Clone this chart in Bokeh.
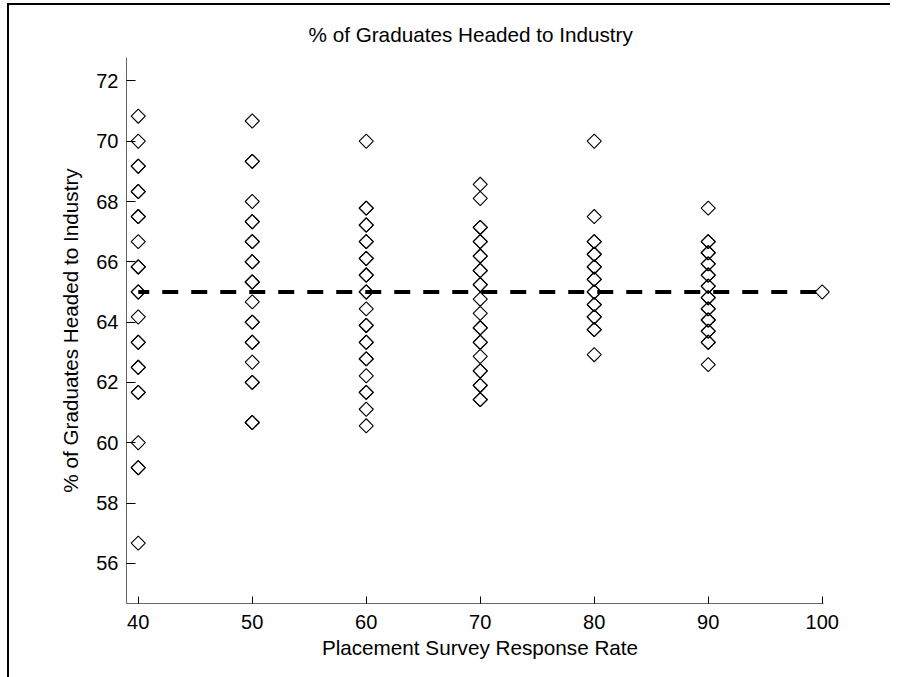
import math
from bokeh.plotting import figure
from bokeh.models import FixedTicker, Range1d, Spacer
from bokeh.layouts import column, row
from bokeh.embed import file_html
from bokeh.resources import INLINE

# ---- data ----
response_levels = [40, 50, 60, 70, 80, 90, 100]
pct_40 = [70.83, 70.00, 69.17, 69.17, 68.33, 68.33, 67.50, 67.50, 66.67, 65.83, 65.83,
          65.00, 65.00, 64.17, 63.33, 63.33, 62.50, 62.50, 61.67, 61.67, 60.00, 59.17,
          59.17, 56.67]
pct_50 = [70.67, 69.33, 69.33, 68.00, 67.33, 67.33, 66.67, 66.67, 66.00, 66.00, 65.33,
          65.33, 64.67, 64.00, 64.00, 63.33, 63.33, 62.67, 62.00, 62.00, 60.67, 60.67]
pct_60 = [70.00, 67.78, 67.78, 67.22, 67.22, 66.67, 66.67, 66.11, 66.11, 65.56, 65.56,
          65.00, 65.00, 64.44, 63.89, 63.89, 63.33, 63.33, 62.78, 62.78, 62.22, 61.67,
          61.67, 61.11, 60.56]
pct_70 = [68.57, 68.10, 67.14, 67.14, 66.67, 66.67, 66.19, 66.19, 65.71, 65.71, 65.24,
          65.24, 64.76, 64.29, 63.81, 63.81, 63.33, 63.33, 62.86, 62.38, 62.38, 61.90,
          61.90, 61.43, 61.43]
pct_80 = [70.00, 67.50, 66.67, 66.67, 66.25, 66.25, 65.83, 65.83, 65.42, 65.42, 65.00,
          65.00, 64.58, 64.58, 64.17, 64.17, 63.75, 63.75, 62.92]
pct_90 = [67.78, 66.67, 66.67, 66.30, 66.30, 65.93, 65.93, 65.56, 65.56, 65.19, 65.19,
          64.81, 64.81, 64.44, 64.44, 64.07, 64.07, 63.70, 63.70, 63.33, 63.33, 62.59]
pct_100 = [65.00]
mean_x = [40, 100]
mean_y = [65, 65]
x_ticks = [40, 50, 60, 70, 80, 90, 100]
y_ticks = [56, 58, 60, 62, 64, 66, 68, 70, 72]
title_text = "% of Graduates Headed to Industry"
x_title = "Placement Survey Response Rate"
y_title = "% of Graduates Headed to Industry"

series = [pct_40, pct_50, pct_60, pct_70, pct_80, pct_90, pct_100]
xs, ys = [], []
for lvl, vals in zip(response_levels, series):
    xs.extend([lvl] * len(vals))
    ys.extend(vals)

FONT = "Liberation Sans"

p = figure(width=880, height=664,
           x_range=Range1d(38.97, 100.99), y_range=Range1d(54.667, 72.776),
           output_backend="svg", toolbar_location=None,
           min_border_left=117, min_border_top=52, min_border_right=56,
           min_border_bottom=66)
p.outline_line_color = None
p.grid.visible = False
p.background_fill_color = "white"
p.border_fill_color = "white"

p.title.text = title_text
p.title.align = "left"
p.title.offset = 182
p.title.standoff = 24
p.title.text_font = FONT
p.title.text_font_size = "20.7px"
p.title.text_font_style = "normal"
p.title.text_color = "black"

for ax in (p.xaxis[0], p.yaxis[0]):
    ax.axis_line_color = "#666666"
    ax.axis_line_width = 1
    ax.major_tick_line_color = "black"
    ax.major_tick_out = 0
    ax.minor_tick_in = 0
    ax.minor_tick_out = 0
    ax.major_label_text_font = FONT
    ax.major_label_text_font_size = "20px"
    ax.major_label_text_color = "black"
    ax.axis_label_text_font = FONT
    ax.axis_label_text_font_size = "20.7px"
    ax.axis_label_text_font_style = "normal"
    ax.axis_label_text_color = "black"

xa = p.xaxis[0]
xa.ticker = FixedTicker(ticks=x_ticks)
xa.major_tick_in = 7
xa.bounds = (38.97, 100.08)
xa.major_label_standoff = 11
xa.axis_label = x_title
xa.axis_label_standoff = 4

ya = p.yaxis[0]
ya.ticker = FixedTicker(ticks=y_ticks)
ya.major_tick_in = 9
ya.major_label_standoff = 8
ya.axis_label = y_title
ya.axis_label_standoff = 11

p.scatter(xs, ys, marker="square", angle=math.pi / 4, size=10,
          line_color="black", line_width=1.1, fill_color=None)
p.line(mean_x, mean_y, line_width=4, line_color="black",
       line_dash="16 13", line_dash_offset=5)

top_gap = Spacer(width=890, height=3)
top_bar = Spacer(width=883, height=2, styles={"background-color": "black"})
left_gap = Spacer(width=7, height=672)
left_bar = Spacer(width=2, height=672, styles={"background-color": "black"})
layout = column(top_gap, row(Spacer(width=7, height=2), top_bar),
                row(left_gap, left_bar, p))

open("out.html", "w").write(file_html(layout, INLINE))
